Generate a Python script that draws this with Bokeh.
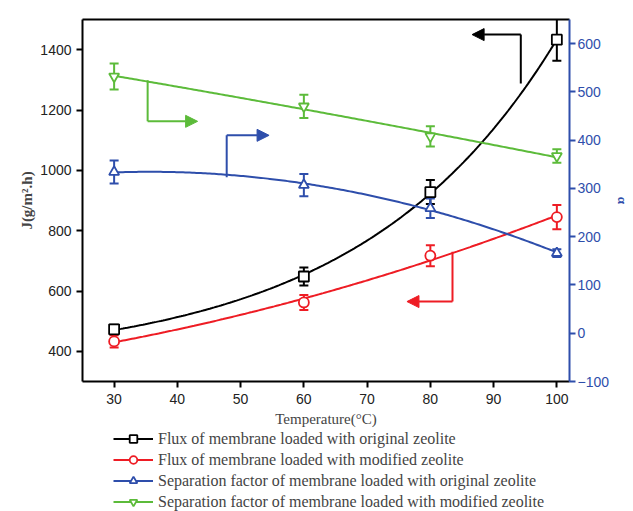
import numpy as np
from bokeh.plotting import figure
from bokeh.layouts import column
from bokeh.models import (Range1d, LinearAxis, Legend, LegendItem, Whisker, TeeHead,
                          ColumnDataSource, Arrow, NormalHead, FixedTicker)
from bokeh.embed import file_html
from bokeh.resources import INLINE

# ---- data ----
temperature = [30, 60, 80, 100]
flux_original = [473, 648, 928, 1433]
flux_original_err = [15, 30, 40, 70]
flux_modified = [433, 562, 717, 845]
flux_modified_err = [20, 25, 35, 40]
alpha_original = [334, 307, 259, 166]
alpha_original_err = [24, 23, 20, 8]
alpha_modified = [532, 470, 408, 367]
alpha_modified_err = [27, 24, 21, 14]

x_ticks = [30, 40, 50, 60, 70, 80, 90, 100]
left_ticks = [400, 600, 800, 1000, 1200, 1400]
right_ticks = [-100, 0, 100, 200, 300, 400, 500, 600]

labels = ["Flux of membrane loaded with original zeolite",
          "Flux of membrane loaded with modified zeolite",
          "Separation factor of membrane loaded with original zeolite",
          "Separation factor of membrane loaded with modified zeolite"]

BLACK = "#000000"
RED = "#ee1c24"
BLUE = "#2e4eab"
GREEN = "#5cbb3a"

p = figure(width=633, height=429, min_border_left=82, min_border_top=19,
           min_border_right=63, min_border_bottom=48,
           x_range=Range1d(25, 102), y_range=Range1d(300, 1500),
           output_backend="svg", toolbar_location=None, tools="")
p.outline_line_color = None
p.grid.visible = False
p.background_fill_color = "white"
p.border_fill_color = "white"
p.extra_y_ranges = {"alpha": Range1d(-100, 650)}

def style_axis(ax, color, label_color):
    ax.axis_line_color = color
    ax.axis_line_width = 2
    ax.major_tick_line_color = color
    ax.major_tick_line_width = 2
    ax.major_tick_out = 6
    ax.major_tick_in = 0
    ax.minor_tick_line_color = None
    ax.major_label_text_font = "Liberation Sans"
    ax.major_label_text_font_size = "14px"
    ax.major_label_text_color = label_color

xa = p.xaxis[0]
style_axis(xa, BLACK, "#222222")
xa.ticker = FixedTicker(ticks=x_ticks)
xa.axis_label = "Temperature(°C)"
xa.axis_label_text_font = "Liberation Serif"
xa.axis_label_text_font_style = "normal"
xa.axis_label_text_font_size = "15px"
xa.axis_label_standoff = 4
xa.major_label_standoff = 6

ya = p.yaxis[0]
style_axis(ya, BLACK, "#222222")
ya.ticker = FixedTicker(ticks=left_ticks)
ya.axis_label = "J(g/m².h)"
ya.axis_label_text_font = "Liberation Serif"
ya.axis_label_text_font_style = "bold"
ya.axis_label_text_font_size = "15px"
ya.axis_label_standoff = 2

ra = LinearAxis(y_range_name="alpha")
style_axis(ra, BLUE, BLUE)
ra.ticker = FixedTicker(ticks=right_ticks)
ra.axis_label = "α"
ra.axis_label_text_color = BLUE
ra.axis_label_text_font = "Liberation Serif"
ra.axis_label_text_font_style = "bold"
ra.axis_label_text_font_size = "13px"
ra.axis_label_standoff = 3
ra.major_label_standoff = 2
p.add_layout(ra, "right")

top = LinearAxis(ticker=FixedTicker(ticks=[]), major_label_text_font_size="0px")
top.axis_line_color = BLACK
top.axis_line_width = 2
top.major_tick_line_color = None
top.minor_tick_line_color = None
p.add_layout(top, "above")

xs = np.linspace(30, 100, 200)
t = np.array(temperature, dtype=float)

def exp_growth_fit(x, y):
    # least-squares fit y = y0 + A*exp(x/tau), tau found by scan
    best = None
    for tau in np.linspace(5, 200, 2000):
        M = np.column_stack([np.ones_like(x), np.exp(x / tau)])
        c, *_ = np.linalg.lstsq(M, y, rcond=None)
        r = np.sum((M @ c - y) ** 2)
        if best is None or r < best[0]:
            best = (r, tau, c)
    _, tau, c = best
    return lambda z: c[0] + c[1] * np.exp(z / tau)

series = [
    (flux_original, flux_original_err, BLACK, "square", "default", "exp"),
    (flux_modified, flux_modified_err, RED, "circle", "default", "poly"),
    (alpha_original, alpha_original_err, BLUE, "triangle", "alpha", "poly"),
    (alpha_modified, alpha_modified_err, GREEN, "inverted_triangle", "alpha", "poly"),
]

# legend-only figure below the chart (its frame is aligned with the chart's frame)
q = figure(width=633, height=82, min_border=0, x_range=Range1d(0, 1), y_range=Range1d(0, 1),
           x_axis_location=None, y_axis_location=None,
           output_backend="svg", toolbar_location=None, tools="")
q.grid.visible = False
q.outline_line_color = None
q.border_fill_color = "white"

items = []
for (vals, errs, color, marker, rng, kind), lab in zip(series, labels):
    v = np.array(vals, dtype=float)
    e = np.array(errs, dtype=float)
    if kind == "exp":
        fit = exp_growth_fit(t, v)(xs)
    else:
        fit = np.polyval(np.polyfit(t, v, 2), xs)
    p.line(xs, fit, line_color=color, line_width=2, y_range_name=rng)
    src = ColumnDataSource(dict(x=t, y=v, lo=v - e, hi=v + e))
    w = Whisker(source=src, base="x", lower="lo", upper="hi", line_color=color,
                line_width=2, y_range_name=rng,
                upper_head=TeeHead(size=9, line_color=color, line_width=2),
                lower_head=TeeHead(size=9, line_color=color, line_width=2))
    p.add_layout(w)
    p.scatter("x", "y", source=src, marker=marker, size=10, line_color=color,
              line_width=1.8, fill_color="white", y_range_name=rng)
    # proxies for the legend, placed outside q's visible range
    lq = q.line([-5, -4], [-5, -5], line_color=color, line_width=2)
    sq = q.scatter([-5], [-5], marker=marker, size=10, line_color=color,
                   line_width=1.8, fill_color="white")
    items.append(LegendItem(label=lab, renderers=[lq, sq]))

# indicator arrows (axis pointers)
def pointer(xpts, ypts, color, rng):
    p.line(xpts[:-1], ypts[:-1], line_color=color, line_width=2, y_range_name=rng)
    p.add_layout(Arrow(end=NormalHead(size=12, fill_color=color, line_color=color),
                       x_start=xpts[-2], y_start=ypts[-2], x_end=xpts[-1], y_end=ypts[-1],
                       line_color=color, line_width=2, y_range_name=rng))

pointer([94.3, 94.3, 86.6], [1288, 1450, 1450], BLACK, "default")
pointer([83.5, 83.5, 76.3], [730, 565, 565], RED, "default")
pointer([35.3, 35.3, 43.2], [524, 439, 439], GREEN, "alpha")
pointer([47.8, 47.8, 54.5], [323, 410, 410], BLUE, "alpha")

leg = Legend(items=items, location=(31, 0))
leg.border_line_color = None
leg.background_fill_alpha = 0
leg.label_text_font = "Liberation Serif"
leg.label_text_font_size = "16px"
leg.label_height = 19
leg.glyph_height = 19
leg.glyph_width = 40
leg.spacing = 2
leg.padding = 0
leg.margin = 0
leg.label_standoff = 5
q.add_layout(leg, "center")

layout = column(p, q, spacing=0)
open("out.html", "w").write(file_html(layout, INLINE))
